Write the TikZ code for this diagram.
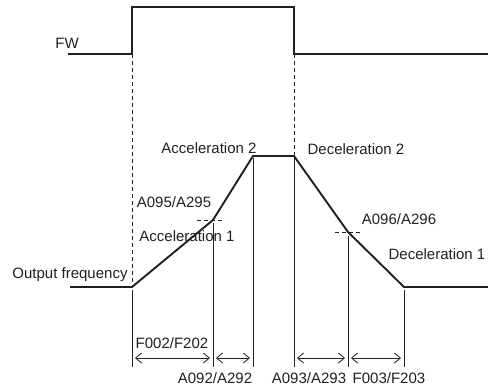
\documentclass[tikz,border=0pt]{standalone}
\usepackage{fontspec}
\setmainfont{Liberation Sans}
\usetikzlibrary{arrows.meta}
\definecolor{ink}{HTML}{231F20}
\tikzset{
  >={Straight Barb[length=6pt,width=10pt]},
  lbl/.style={font=\fontsize{15}{18}\selectfont, text=ink, inner sep=0pt,
    text height=10.8pt, text depth=0pt},
  signal/.style={ink, line width=1.9pt},
  guide/.style={ink, line width=0.8pt, dash pattern=on 4pt off 3pt},
  tick/.style={ink, line width=0.9pt},
  span/.style={ink, line width=0.8pt, <->, shorten <=3pt, shorten >=3pt},
}
\begin{document}
\begin{tikzpicture}[x=1pt,y=-1pt]
  \useasboundingbox (0,0) rectangle (488,386);

  % --- FW command ---
  \coordinate (F0) at (68,54);
  \coordinate (Fon) at (132,54);
  \coordinate (Fhi1) at (132,7);
  \coordinate (Fhi2) at (294,7);
  \coordinate (Foff) at (294,54);
  \coordinate (F1) at (488,54);
  \draw[signal] (F0) -- (Fon) -- (Fhi1) -- (Fhi2) -- (Foff) -- (F1);
  \node[lbl] (fw) at (67,43) {FW};

  % --- output frequency ---
  \coordinate (O0) at (70,287);
  \coordinate (Ostart) at (132,287);
  \coordinate (Oacc) at (213,220);
  \coordinate (Otop1) at (253,156);
  \coordinate (Otop2) at (294,156);
  \coordinate (Odec) at (348,232);
  \coordinate (Oend) at (404,287);
  \coordinate (O1) at (488,287);
  \draw[signal] (O0) -- (Ostart) -- (Oacc) -- (Otop1) -- (Otop2) -- (Odec) -- (Oend) -- (O1);

  % guides
  \draw[guide] (Fon) -- (Ostart);
  \draw[guide] (Foff) -- (Otop2);
  \draw[guide] (197,220) -- (225,220);
  \draw[guide] (335,232) -- (362,232);

  % time marks
  \foreach \c/\t in {Ostart/290, Oacc/223, Otop1/158, Otop2/158, Odec/236, Oend/290} {
    \coordinate (\c-t) at (\c |- 0,\t);
    \coordinate (\c-b) at (\c |- 0,367);
    \draw[tick] (\c-t) -- (\c-b);
  }
  \foreach \a/\b in {Ostart/Oacc, Oacc/Otop1, Otop2/Odec, Odec/Oend} {
    \draw[span] (\a |- 0,358) -- (\b |- 0,358);
  }

  % labels
  \node[lbl] (acc2) at (209,148) {Acceleration 2};
  \node[lbl] (dec2) at (356,149) {Deceleration 2};
  \node[lbl] (a095) at (174,202) {A095/A295};
  \node[lbl] (acc1) at (187,236) {Acceleration 1};
  \node[lbl] (a096) at (399,219) {A096/A296};
  \node[lbl] (dec1) at (437,254) {Deceleration 1};
  \node[lbl] (outf) at (70,273) {Output frequency};
  \node[lbl] (f002) at (172,343) {F002/F202};
  \node[lbl] (a092) at (215,378) {A092/A292};
  \node[lbl] (a093) at (309,378) {A093/A293};
  \node[lbl] (f003) at (389,378) {F003/F203};
\end{tikzpicture}
\end{document}
